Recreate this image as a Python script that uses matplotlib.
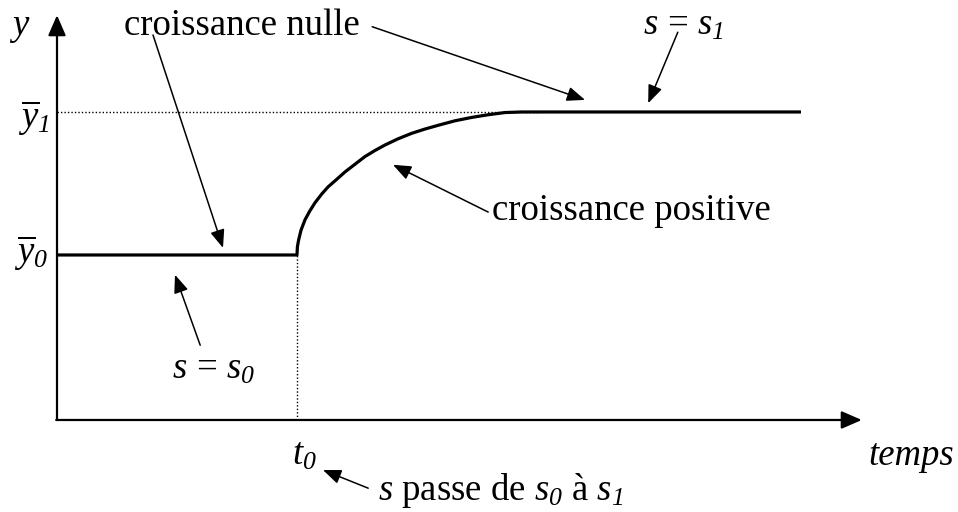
import matplotlib
matplotlib.use("Agg")
import matplotlib.pyplot as plt

# schéma : la croissance lorsque s passe de s0 à s1
plt.rcParams['font.family'] = ['Liberation Serif', 'DejaVu Serif']
plt.rcParams['mathtext.fontset'] = 'custom'
plt.rcParams['mathtext.rm'] = 'Liberation Serif'
plt.rcParams['mathtext.it'] = 'Liberation Serif:italic'
# \mathsf sert aux indices en italique (les chiffres de \mathit restent droits)
plt.rcParams['mathtext.sf'] = 'Liberation Serif:italic'

T0 = 3.0          # instant du changement
Y0 = 3.0          # niveau initial
Y1 = 5.6          # niveau final
T_END = 9.3       # fin de la trajectoire tracée
T_AXIS = 10.06    # longueur de l'axe des temps
Y_AXIS = 7.36     # longueur de l'axe des y

# trajectoire (transition entre les deux plateaux)
curve_t = [3.0, 3.005, 3.02, 3.05, 3.1, 3.16, 3.225, 3.31, 3.39, 3.5, 3.6, 3.725,
           3.85, 3.975, 4.1, 4.26, 4.43, 4.6, 4.77, 4.975, 5.18, 5.39, 5.6, 5.81, 6.01]
curve_y = [3.0, 3.15, 3.27, 3.45, 3.64, 3.8, 3.95, 4.11, 4.24, 4.38, 4.51, 4.65,
           4.79, 4.9, 5.0, 5.11, 5.21, 5.29, 5.36, 5.44, 5.5, 5.55, 5.59, 5.6, 5.6]

time = [0.0] + curve_t + [T_END]
level = [Y0] + curve_y + [Y1]

FS = 26.5

fig = plt.figure(figsize=(9.58, 5.12), dpi=100)
ax = fig.add_axes([0, 0, 1, 1])
ax.set_xlim(-0.7125, 11.2625)
ax.set_ylim(-1.673, 7.636)
ax.axis('off')

# axes avec flèches
axis_arrow = dict(arrowstyle='-|>,head_length=0.62,head_width=0.27',
                  mutation_scale=20, lw=1.6, color='black',
                  shrinkA=0, shrinkB=0)
ax.annotate('', xy=(0, Y_AXIS), xytext=(0, 0), arrowprops=axis_arrow)
ax.annotate('', xy=(T_AXIS, 0), xytext=(-0.01, 0), arrowprops=axis_arrow)

# pointillés de repère
ax.plot([0, curve_t[-1]], [Y1, Y1], color='black', lw=1.0, ls=(0, (1, 1.5)))
ax.plot([T0, T0], [0, Y0], color='black', lw=1.0, ls=(0, (1, 1.5)))

# trajectoire
ax.plot(time, level, color='black', lw=2.3, solid_capstyle='butt',
        solid_joinstyle='round')

# textes
ax.text(-0.46, 7.0, 'y', fontsize=FS, style='italic', ha='center', va='baseline')
ax.text(-0.09, 5.31, r'$\overline{y}_{\mathsf{1}}$', fontsize=FS, ha='right', va='baseline')
ax.text(-0.11, 2.85, r'$\overline{y}_{\mathsf{0}}$', fontsize=FS, ha='right', va='baseline')
ax.text(0.84, 7.0, 'croissance nulle', fontsize=FS, ha='left', va='baseline')
ax.text(7.33, 7.0, r'$s\,=\,s_{\mathsf{1}}$', fontsize=FS, ha='left', va='baseline')
ax.text(5.44, 3.64, 'croissance positive', fontsize=FS, ha='left', va='baseline')
ax.text(1.44, 0.76, r'$s\,=\,s_{\mathsf{0}}$', fontsize=FS, ha='left', va='baseline')
ax.text(2.94, -0.82, r'$t_{\mathsf{0}}$', fontsize=FS, ha='left', va='baseline')
ax.text(10.14, -0.82, 'temps', fontsize=FS, style='italic', ha='left', va='baseline')
ax.text(4.01, -1.45, r'$s$ passe de $s_{\mathsf{0}}$ à $s_{\mathsf{1}}$',
        fontsize=FS, ha='left', va='baseline')

# flèches d'annotation
note_arrow = dict(arrowstyle='-|>,head_length=0.55,head_width=0.22',
                  mutation_scale=20, lw=1.1, color='black',
                  shrinkA=0, shrinkB=0)
notes = [
    ((2.075, 3.13), (1.2, 7.0)),
    ((6.6, 5.82), (3.94, 7.15)),
    ((7.39, 5.76), (7.76, 7.05)),
    ((4.2, 4.64), (5.39, 3.78)),
    ((1.475, 2.64), (1.79, 1.36)),
    ((3.325, -0.91), (3.89, -1.24)),
]
for tip, tail in notes:
    ax.annotate('', xy=tip, xytext=tail, arrowprops=note_arrow)

fig.savefig('out.png', dpi=100)
